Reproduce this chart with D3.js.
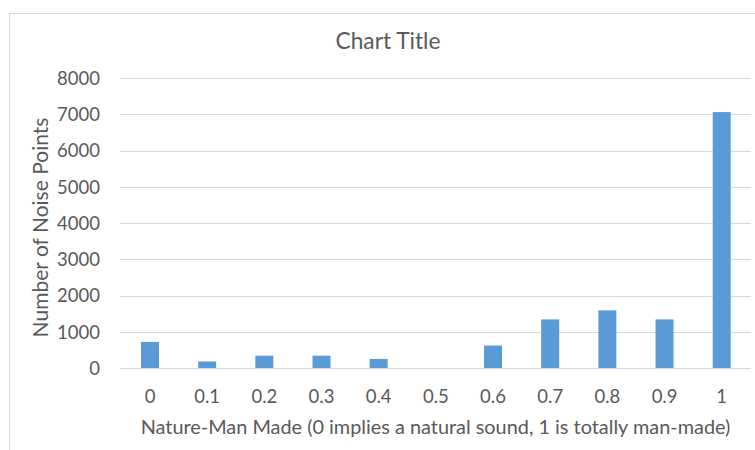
<!DOCTYPE html>
<html>
<head>
<meta charset="utf-8">
<script src="https://cdn.jsdelivr.net/npm/d3@7"></script>
<style>
  html, body { margin: 0; padding: 0; background: #fff; }
  svg { display: block; }
  text { font-family: Lato, "Open Sans", sans-serif; fill: #595959; }
</style>
</head>
<body>
<svg id="chart" width="755" height="450"></svg>
<script>
// Histogram of noise points by nature / man-made score
const categories = ["0", "0.1", "0.2", "0.3", "0.4", "0.5", "0.6", "0.7", "0.8", "0.9", "1"];
const counts = [720, 180, 340, 340, 250, 0, 620, 1340, 1590, 1340, 7060];
const yTicks = [0, 1000, 2000, 3000, 4000, 5000, 6000, 7000, 8000];
const titleText = "Chart Title";
const xTitleText = "Nature-Man Made (0 implies a natural sound, 1 is totally man-made)";
const yTitleText = "Number of Noise Points";

const svg = d3.select("#chart");

// chart area frame
svg.append("rect")
  .attr("x", 9.5).attr("y", 13.5)
  .attr("width", 800).attr("height", 500)
  .attr("fill", "#fff")
  .attr("stroke", "#d9d9d9");

const plotLeft = 120, plotRight = 751;
const x = d3.scaleBand()
  .domain(categories)
  .range([121.4, 750.3])
  .paddingInner(0.685)
  .paddingOuter(0.3425);

const y = d3.scaleLinear().domain([0, 8000]).range([368, 78]);

// horizontal gridlines
svg.append("g")
  .selectAll("line")
  .data(yTicks)
  .join("line")
  .attr("x1", plotLeft).attr("x2", plotRight)
  .attr("y1", d => Math.round(y(d)) + 0.5)
  .attr("y2", d => Math.round(y(d)) + 0.5)
  .attr("stroke", "#d9d9d9")
  .attr("stroke-width", 1);

// y-axis tick labels
const yAxis = d3.axisLeft(y).tickValues(yTicks).tickFormat(d3.format("d")).tickSize(0).tickPadding(0);
const gy = svg.append("g").attr("transform", "translate(100,0)").call(yAxis);
gy.select(".domain").remove();
gy.selectAll("text")
  .attr("font-family", "Lato, 'Open Sans', sans-serif")
  .attr("font-size", 18.5)
  .attr("fill", "#595959")
  .attr("dy", "0.35em");

// x-axis category labels
const xAxis = d3.axisBottom(x).tickSize(0).tickPadding(0);
const gx = svg.append("g").attr("transform", "translate(0,390)").call(xAxis);
gx.select(".domain").remove();
gx.selectAll("text")
  .attr("font-family", "Lato, 'Open Sans', sans-serif")
  .attr("font-size", 18.5)
  .attr("fill", "#595959")
  .attr("dy", "0.71em");

// bars
svg.append("g")
  .selectAll("rect")
  .data(categories.map((c, i) => ({ c, v: counts[i] })))
  .join("rect")
  .attr("x", d => x(d.c))
  .attr("width", x.bandwidth())
  .attr("y", d => y(d.v))
  .attr("height", d => y(0) - y(d.v))
  .attr("fill", "#5b9bd5");

// fit a text element to a target width by scaling its font size
function fitText(sel, base, width) {
  sel.attr("font-size", base);
  const w = sel.node().getComputedTextLength();
  sel.attr("font-size", base * width / w);
}

const title = svg.append("text")
  .attr("x", 388).attr("y", 48.5)
  .attr("text-anchor", "middle")
  .text(titleText);
fitText(title, 20, 105);

const xTitle = svg.append("text")
  .attr("x", 435.5).attr("y", 434)
  .attr("text-anchor", "middle")
  .text(xTitleText);
fitText(xTitle, 18, 590);

const yTitle = svg.append("text")
  .attr("transform", "translate(48,227.5) rotate(-90)")
  .attr("text-anchor", "middle")
  .text(yTitleText);
fitText(yTitle, 18, 220);
</script>
</body>
</html>
